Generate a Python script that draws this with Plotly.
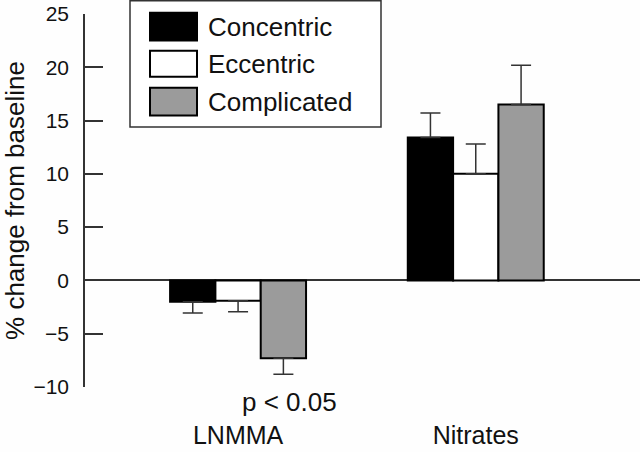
import plotly.graph_objects as go

categories = ["LNMMA", "Nitrates"]
series_names = ["Concentric", "Eccentric", "Complicated"]
concentric = [-2.0, 13.4]
eccentric = [-1.9, 10.0]
complicated = [-7.3, 16.5]
concentric_err = [1.05, 2.3]
eccentric_err = [1.05, 2.8]
complicated_err = [1.5, 3.7]
y_ticks = [-10, -5, 0, 5, 10, 15, 20, 25]
annotation_text = "p < 0.05"
y_title = "% change from baseline"

values = [concentric, eccentric, complicated]
errors = [concentric_err, eccentric_err, complicated_err]
fills = ["#000000", "#ffffff", "#9b9b9b"]

W, H = 640, 452
ML, MR, MT, MB = 85, 0, 14.3, 65.3
PW, PH = W - ML - MR, H - MT - MB


def px_x(x):
    return (x - ML) / PW


def px_y(y):
    return (H - MB - y) / PH


fig = go.Figure()
for name, vals, errs, col in zip(series_names, values, errors, fills):
    plus = [e if v >= 0 else 0 for v, e in zip(vals, errs)]
    minus = [e if v < 0 else 0 for v, e in zip(vals, errs)]
    fig.add_trace(go.Bar(
        x=categories, y=vals, name=name,
        marker=dict(color=col, line=dict(color="#000000", width=2)),
        error_y=dict(type="data", symmetric=False, array=plus, arrayminus=minus,
                     color="#333333", thickness=1.5, width=10),
        showlegend=False,
    ))

font_main = "Liberation Sans, Arial, Helvetica, sans-serif"

shapes = []
annotations = []
# legend box
shapes.append(dict(type="rect", xref="paper", yref="paper",
                   x0=px_x(130), x1=px_x(381), y0=px_y(127), y1=px_y(1),
                   line=dict(color="#333333", width=1.5), fillcolor="white", layer="above"))
rows = [(13, 40.7), (51, 77), (88, 115.7)]
for (t, b), name, col in zip(rows, series_names, fills):
    shapes.append(dict(type="rect", xref="paper", yref="paper",
                       x0=px_x(150), x1=px_x(197), y0=px_y(b), y1=px_y(t),
                       line=dict(color="#000000", width=2), fillcolor=col, layer="above"))
    annotations.append(dict(text=name, xref="paper", yref="paper",
                            x=px_x(206), y=px_y((t + b) / 2), xanchor="left", yanchor="middle",
                            showarrow=False, font=dict(size=26, color="#111111", family=font_main)))

annotations.append(dict(text=annotation_text, xref="paper", yref="paper",
                        x=px_x(289), y=px_y(402), xanchor="center", yanchor="middle",
                        showarrow=False, font=dict(size=26, color="#111111", family=font_main)))

fig.update_layout(
    width=W, height=H,
    margin=dict(l=ML, r=MR, t=MT, b=MB, autoexpand=False),
    paper_bgcolor="#fefefe", plot_bgcolor="#fefefe",
    barmode="group", bargap=0.428, bargroupgap=0,
    font=dict(family=font_main, color="#111111"),
    shapes=shapes, annotations=annotations,
    xaxis=dict(type="category", range=[-0.644, 1.691], showline=False, showgrid=False,
               zeroline=False, ticks="", tickfont=dict(size=25, color="#111111"),
               ticklabelstandoff=31, fixedrange=True),
    yaxis=dict(range=[-10, 25], tickvals=y_ticks, showgrid=False,
               showline=True, linecolor="#333333", linewidth=1.5,
               ticks="inside", ticklen=18, tickwidth=1.5, tickcolor="#333333",
               zeroline=True, zerolinecolor="#333333", zerolinewidth=1.5,
               tickfont=dict(size=21, color="#111111"), ticklabelstandoff=10,
               title=dict(text=y_title, font=dict(size=26, color="#111111"), standoff=6)),
)

fig.write_html("out.html", config={"displayModeBar": False},
               post_script="document.body.style.margin='0';document.body.style.padding='0';")
